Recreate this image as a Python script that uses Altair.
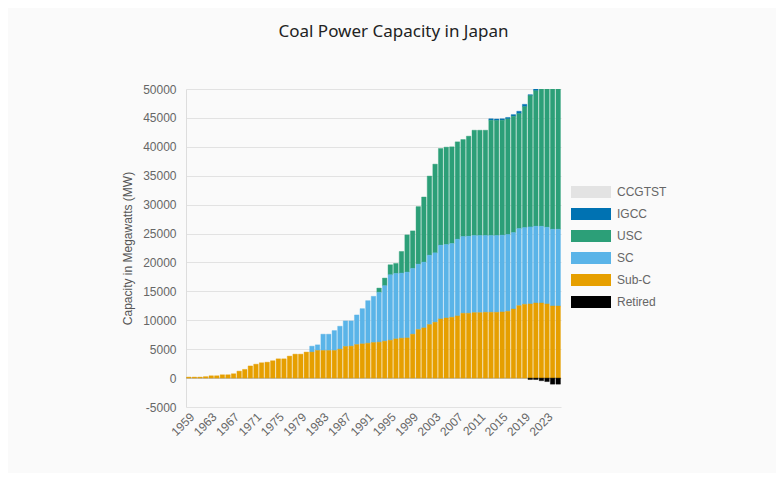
import altair as alt
import pandas as pd

years = list(range(1959, 2026))

sub_c = [170, 170, 170, 250, 400, 400, 575, 575, 750, 1200,
         1500, 2100, 2400, 2650, 2750, 3000, 3330, 3330, 3800, 4140,
         4140, 4500, 4500, 4770, 4770, 4770, 4770, 5000, 5460, 5520,
         5800, 5920, 6030, 6150, 6210, 6380, 6550, 6780, 6900, 6950,
         7590, 8390, 8680, 9250, 9660, 10230, 10400, 10520, 10750, 11210,
         11210, 11320, 11320, 11380, 11380, 11380, 11440, 11550, 11950, 12530,
         12760, 12820, 12990, 12990, 12820, 12470, 12470]

sc = [0, 0, 0, 0, 0, 0, 0, 0, 0, 0,
      0, 0, 0, 0, 0, 0, 0, 0, 0, 0,
      0, 0, 1020, 980, 2820, 2820, 3450, 3970, 4430, 4370,
      5120, 6090, 7360, 7990, 8620, 9600, 11320, 11320, 11260, 11380,
      11380, 11320, 11380, 12010, 12000, 12760, 12700, 12760, 13270, 13270,
      13330, 13340, 13340, 13280, 13280, 13280, 13280, 13280, 13220, 13330,
      13270, 13330, 13270, 13270, 13270, 13280, 13280]

usc = [0] * 34 + [740, 1320, 1730, 1730, 3740, 6440, 6490, 9950, 11260, 13680,
                  15340, 16720, 16840, 16720, 16840, 16780, 17300, 18210, 18210, 18210,
                  19940, 19900, 19880, 20000, 20120, 19890, 20920, 22700, 23440, 24040,
                  24210, 24550, 24550]

igcc = [0] * 54 + [250, 250, 250, 250, 280, 400, 400, 170, 300, 400, 400, 400, 400]

retired = [0] * 61 + [-250, -250, -450, -600, -1050, -1050]

ccgtst = [0] * 67

series_names = ["CCGTST", "IGCC", "USC", "SC", "Sub-C", "Retired"]
series_colors = ["#e3e3e3", "#0072b2", "#2c9f78", "#5ab4e8", "#e69f00", "#000000"]
stack_rank = {"Sub-C": 0, "SC": 1, "USC": 2, "IGCC": 3, "CCGTST": 4, "Retired": 0}

tick_years = [1959, 1963, 1967, 1971, 1975, 1979, 1983, 1987, 1991, 1995,
              1999, 2003, 2007, 2011, 2015, 2019, 2023]
y_ticks = [-5000, 0, 5000, 10000, 15000, 20000, 25000, 30000, 35000, 40000, 45000, 50000]

values = {"CCGTST": ccgtst, "IGCC": igcc, "USC": usc, "SC": sc, "Sub-C": sub_c, "Retired": retired}
rows = []
for name in series_names:
    for yr, v in zip(years, values[name]):
        if v != 0:
            rows.append({"Year": yr, "Type": name, "MW": v, "rank": stack_rank[name]})
df = pd.DataFrame(rows)

label_font = "Liberation Sans"

y_scale = alt.Scale(domain=[-5000, 50000], nice=False, zero=False)
y_axis = alt.Axis(values=y_ticks, labelExpr="'' + datum.value", ticks=False,
                  labelPadding=10, labelOverlap=False, tickCount=12,
                  labelColor="#666666", labelFont=label_font, labelFontSize=12,
                  domainColor="#dddddd", gridColor="#e2e2e2",
                  title="Capacity in Megawatts (MW)", titleColor="#555555",
                  titleFont=label_font, titleFontSize=12, titleFontWeight="normal",
                  titlePadding=8)

zero_rule = alt.Chart(pd.DataFrame({"MW": [0]})).mark_rule(color="#aaaaaa", strokeWidth=1).encode(
    y=alt.Y("MW:Q", scale=y_scale, axis=y_axis)
)

bars = alt.Chart(df).mark_bar(clip=True, strokeWidth=1, strokeOpacity=0.4).encode(
    x=alt.X("Year:O",
            scale=alt.Scale(domain=years, paddingInner=0.2, paddingOuter=0.1),
            axis=alt.Axis(values=tick_years, labelAngle=315, ticks=False, domain=False,
                          labelColor="#666666", labelFont=label_font, labelFontSize=12,
                          labelPadding=4, title=None, grid=False, labelOverlap=False)),
    y=alt.Y("MW:Q", stack="zero", scale=y_scale, axis=y_axis),
    color=alt.Color("Type:N",
                    scale=alt.Scale(domain=series_names, range=series_colors),
                    legend=alt.Legend(orient="none", legendX=395, legendY=93, title=None,
                                      symbolType="M-2,-0.6H2V0.6H-2Z", symbolSize=400,
                                      symbolStrokeWidth=0, symbolOpacity=1,
                                      labelColor="#666666", labelFont=label_font,
                                      labelFontSize=12, labelOffset=16, rowPadding=6)),
    stroke=alt.Stroke("Type:N", scale=alt.Scale(domain=series_names, range=series_colors),
                      legend=None),
    order=alt.Order("rank:Q", sort="ascending"),
)

chart = alt.layer(zero_rule, bars).properties(
    width=375,
    height=318,
    autosize=alt.AutoSizeParams(type="none"),
    padding={"left": 178, "top": 81, "right": 215, "bottom": 66},
    background="#fafafa",
    title=alt.Title("Coal Power Capacity in Japan", font="Noto Sans", fontSize=17,
                    fontWeight="normal", color="#222222", anchor="middle", frame="group",
                    dx=20, offset=42),
).configure_view(stroke=None)

chart.save("out.html", embed_options={"renderer": "svg", "actions": False})
